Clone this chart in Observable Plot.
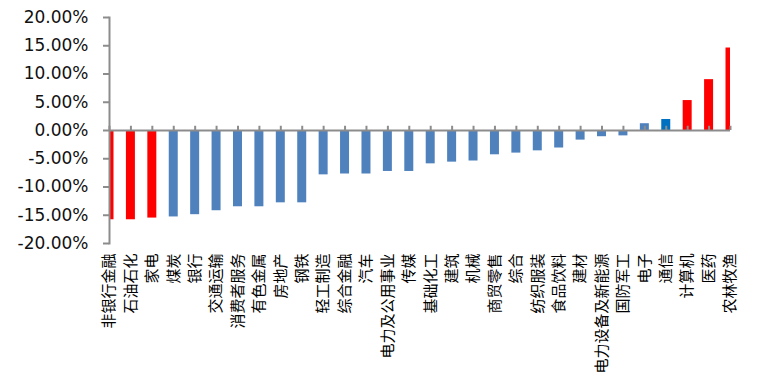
<!DOCTYPE html>
<html>
<head>
<meta charset="utf-8">
<script src="https://cdn.jsdelivr.net/npm/d3@7"></script>
<script src="https://cdn.jsdelivr.net/npm/@observablehq/plot@0.6"></script>
<style>
  html, body { margin: 0; padding: 0; background: #fff; }
</style>
</head>
<body>
<div id="chart"></div>
<script>
const categories = ["非银行金融","石油石化","家电","煤炭","银行","交通运输","消费者服务","有色金属","房地产","钢铁",
  "轻工制造","综合金融","汽车","电力及公用事业","传媒","基础化工","建筑","机械","商贸零售","综合",
  "纺织服装","食品饮料","建材","电力设备及新能源","国防军工","电子","通信","计算机","医药","农林牧渔"];
const values = [-15.8,-15.8,-15.5,-15.3,-14.9,-14.2,-13.5,-13.5,-12.8,-12.8,
  -7.85,-7.7,-7.7,-7.25,-7.25,-5.9,-5.6,-5.4,-4.3,-4.0,
  -3.6,-3.1,-1.7,-1.1,-0.95,1.2,1.95,5.3,9.0,14.6];
const colorGroup = ["r","r","r","b","b","b","b","b","b","b",
  "b","b","b","b","b","b","b","b","b","b",
  "b","b","b","b","b","b","d","r","r","r"];
const yTicks = [-20,-15,-10,-5,0,5,10,15,20];
const palette = {r: "#FF0000", b: "#4F81BD", d: "#0070C0"};

const data = categories.map((c, i) => ({i, name: c, value: values[i], color: palette[colorGroup[i]]}));
const idx = data.map(d => d.i);

const chart = Plot.plot({
  width: 770,
  height: 386,
  marginLeft: 109,
  marginRight: 40,
  marginTop: 17,
  marginBottom: 143,
  style: {fontFamily: "DejaVu Sans, Verdana, sans-serif", background: "#fff"},
  x: {type: "linear", domain: [0, categories.length - 1]},
  y: {domain: [-20, 20]},
  marks: [
    Plot.rectY(data, {x1: d => d.i - 0.21, x2: d => d.i + 0.21, y: "value", fill: "color", clip: true}),
    Plot.ruleY([0], {stroke: "#8c8c8c", strokeWidth: 2}),
    Plot.ruleX(idx, {x: d => d, y1: 0, y2: 0.75, stroke: "#8c8c8c", strokeWidth: 2}),
    Plot.frame({anchor: "left", stroke: "#8c8c8c", strokeWidth: 2}),
    Plot.axisY({ticks: yTicks, tickFormat: d => d.toFixed(2) + "%", tickSize: 6, tickPadding: 15,
      fontSize: 17, stroke: "#8c8c8c", strokeWidth: 2, fill: "#111", label: null}),
    Plot.axisX({ticks: idx, tickFormat: i => categories[i], tickRotate: -90, tickSize: 0, tickPadding: 10,
      fontSize: 15, fontFamily: "Noto Sans CJK SC", fill: "#000", label: null})
  ]
});
document.getElementById("chart").appendChild(chart);
</script>
</body>
</html>
